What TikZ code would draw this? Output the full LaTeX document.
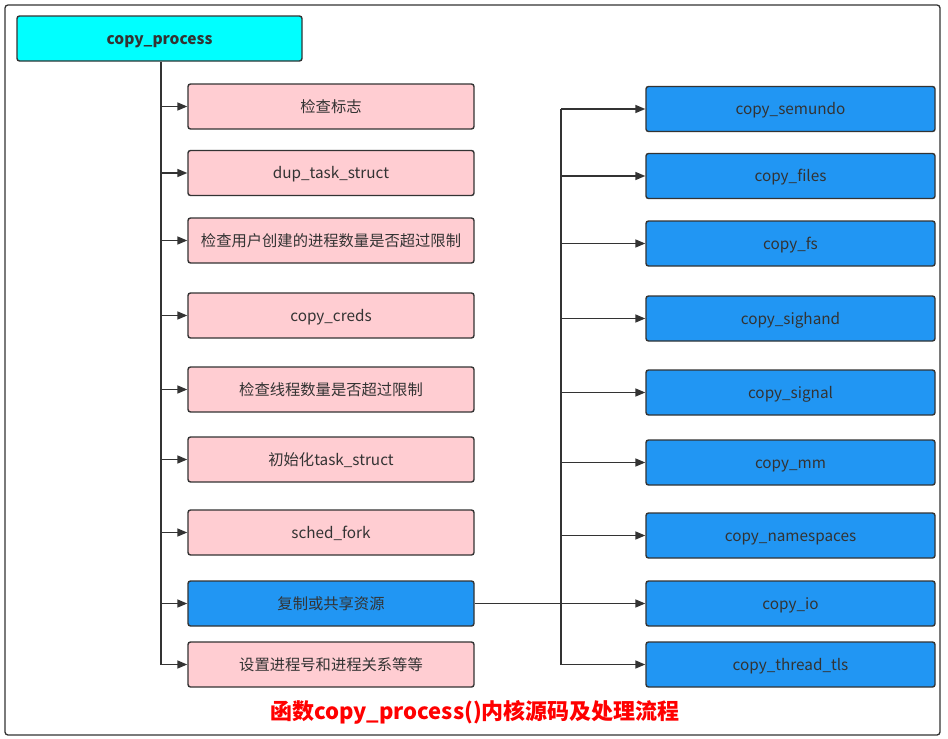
\documentclass[tikz,border=0pt]{standalone}
\usepackage{fontspec}
\setmainfont{Noto Sans CJK SC}
\usetikzlibrary{arrows.meta}
\definecolor{pinkfill}{HTML}{FFCDD2}
\definecolor{bluefill}{HTML}{2196F3}
\definecolor{cyanfill}{HTML}{00FFFF}
\definecolor{edge}{HTML}{333333}
\definecolor{txt}{HTML}{333333}
\tikzset{
  box/.style={draw=edge, line width=1.4pt, rounded corners=2.5pt, minimum height=45pt, inner sep=0pt, text=txt, text height=13pt, text depth=2pt, font=\fontsize{15.3}{18}\selectfont},
  lbox/.style={box, minimum width=286pt},
  rbox/.style={box, minimum width=289pt, fill=bluefill},
  pinkbox/.style={lbox, fill=pinkfill},
  bluebox/.style={lbox, fill=bluefill},
  conn/.style={draw=edge, line width=1.6pt},
  arr/.style={conn, -{Triangle[length=10pt,width=8pt]}},
}
\begin{document}
\begin{tikzpicture}[x=1pt,y=-1pt]
\useasboundingbox (0,0) rectangle (948,739);
\draw[draw=edge, line width=1.3pt, rounded corners=3pt] (5,5) rectangle (940,735);
\node[box, fill=cyanfill, minimum width=285pt, font=\fontsize{15.5}{18}\selectfont\bfseries] (cp) at (159.5,38.5) {copy\_process};
% left column
\node[pinkbox] (l1) at (331,106.5) {检查标志};
\node[pinkbox] (l2) at (331,173) {dup\_task\_struct};
\node[pinkbox] (l3) at (331,240.5) {检查用户创建的进程数量是否超过限制};
\node[pinkbox] (l4) at (331,315.5) {copy\_creds};
\node[pinkbox] (l5) at (331,389.5) {检查线程数量是否超过限制};
\node[pinkbox] (l6) at (331,459.5) {初始化task\_struct};
\node[pinkbox] (l7) at (331,532.5) {sched\_fork};
\node[bluebox] (l8) at (331,603.5) {复制或共享资源};
\node[pinkbox] (l9) at (331,664.5) {设置进程号和进程关系等等};
% right column
\node[rbox] (r1) at (790.5,109) {copy\_semundo};
\node[rbox] (r2) at (790.5,176) {copy\_files};
\node[rbox] (r3) at (790.5,243.5) {copy\_fs};
\node[rbox] (r4) at (790.5,318.5) {copy\_sighand};
\node[rbox] (r5) at (790.5,392.5) {copy\_signal};
\node[rbox] (r6) at (790.5,462.5) {copy\_mm};
\node[rbox] (r7) at (790.5,535.5) {copy\_namespaces};
\node[rbox] (r8) at (790.5,603.5) {copy\_io};
\node[rbox] (r9) at (790.5,664.5) {copy\_thread\_tls};
% left trunk
\coordinate (lt) at (161,61);
\draw[conn] (cp.south -| lt) -- (lt |- l9.west);
\foreach \i in {1,...,9} {
  \draw[arr] (lt |- l\i.west) -- (l\i.west);
}
% right trunk
\coordinate (rt) at (561,0);
\draw[conn] (rt |- r1.west) -- (rt |- r9.west);
\draw[conn] (l8.east) -- (rt |- l8.east);
\foreach \i in {1,...,9} {
  \draw[arr] (rt |- r\i.west) -- (r\i.west);
}
\node[text=red, font=\fontsize{22}{26}\selectfont\bfseries] (title) at (475,712) {函数copy\_process()内核源码及处理流程};
\end{tikzpicture}
\end{document}
